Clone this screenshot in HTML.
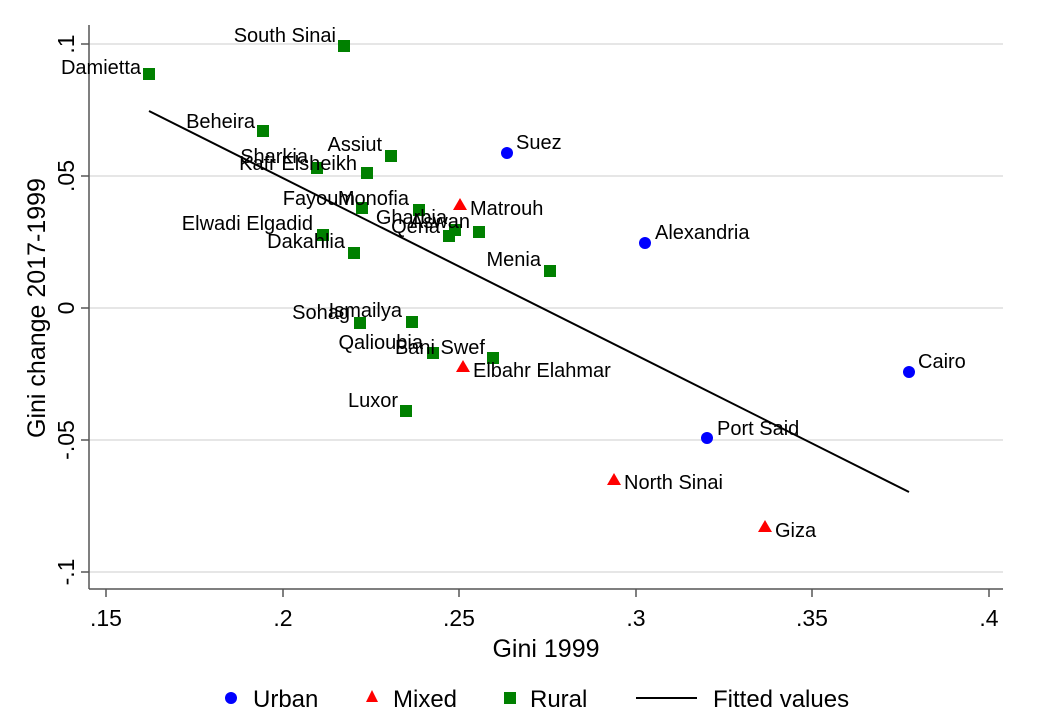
<!DOCTYPE html>
<html><head><meta charset="utf-8"><style>body{margin:0;background:#fff}svg{display:block}text{font-family:"Liberation Sans",sans-serif;fill:#000}</style></head><body>
<svg width="1041" height="721" viewBox="0 0 1041 721">
<rect width="1041" height="721" fill="#fff"/>
<g stroke="#e6e6e6" stroke-width="2">
<line x1="89" y1="44" x2="1003" y2="44"/><line x1="89" y1="176" x2="1003" y2="176"/><line x1="89" y1="308" x2="1003" y2="308"/><line x1="89" y1="440" x2="1003" y2="440"/><line x1="89" y1="572" x2="1003" y2="572"/>
</g>
<g stroke="#555" stroke-width="1.5">
<line x1="89" y1="25" x2="89" y2="589"/><line x1="89" y1="589" x2="1003" y2="589"/>
<line x1="81" y1="44" x2="89" y2="44"/><line x1="81" y1="176" x2="89" y2="176"/><line x1="81" y1="308" x2="89" y2="308"/><line x1="81" y1="440" x2="89" y2="440"/><line x1="81" y1="572" x2="89" y2="572"/>
<line x1="106" y1="589" x2="106" y2="597"/><line x1="283" y1="589" x2="283" y2="597"/><line x1="459" y1="589" x2="459" y2="597"/><line x1="636" y1="589" x2="636" y2="597"/><line x1="812" y1="589" x2="812" y2="597"/><line x1="989" y1="589" x2="989" y2="597"/>
</g>
<g font-size="23" text-anchor="middle">
<text x="106" y="626">.15</text><text x="283" y="626">.2</text><text x="459" y="626">.25</text><text x="636" y="626">.3</text><text x="812" y="626">.35</text><text x="989" y="626">.4</text>
<text transform="translate(74,44) rotate(-90)">.1</text>
<text transform="translate(74,176) rotate(-90)">.05</text>
<text transform="translate(74,308) rotate(-90)">0</text>
<text transform="translate(74,440) rotate(-90)">-.05</text>
<text transform="translate(74,572) rotate(-90)">-.1</text>
</g>
<g font-size="25" text-anchor="middle">
<text x="546" y="657">Gini 1999</text>
<text transform="translate(45,308) rotate(-90)">Gini change 2017-1999</text>
</g>
<line x1="149" y1="111" x2="909" y2="492" stroke="#000" stroke-width="2"/>
<g fill="#008000">
<rect x="143" y="68" width="12" height="12"/><rect x="338" y="40" width="12" height="12"/><rect x="257" y="125" width="12" height="12"/><rect x="385" y="150" width="12" height="12"/><rect x="311" y="162" width="12" height="12"/><rect x="361" y="167" width="12" height="12"/><rect x="356" y="202" width="12" height="12"/><rect x="413" y="204" width="12" height="12"/><rect x="449" y="224" width="12" height="12"/><rect x="443" y="230" width="12" height="12"/><rect x="473" y="226" width="12" height="12"/><rect x="317" y="229" width="12" height="12"/><rect x="348" y="247" width="12" height="12"/><rect x="544" y="265" width="12" height="12"/><rect x="354" y="317" width="12" height="12"/><rect x="406" y="316" width="12" height="12"/><rect x="427" y="347" width="12" height="12"/><rect x="487" y="352" width="12" height="12"/><rect x="400" y="405" width="12" height="12"/>
</g>
<g fill="#0000ff"><circle cx="507" cy="153" r="6"/><circle cx="645" cy="243" r="6"/><circle cx="909" cy="372" r="6"/><circle cx="707" cy="438" r="6"/></g>
<g fill="#ff0000"><polygon points="460,198 467,210 453,210"/><polygon points="463,360 470,372 456,372"/><polygon points="614,473 621,485 607,485"/><polygon points="765,520 772,532 758,532"/></g>
<g font-size="20" text-anchor="end">
<text x="141" y="74">Damietta</text><text x="336" y="42">South Sinai</text><text x="255" y="128">Beheira</text><text x="382" y="151">Assiut</text><text x="308" y="163">Sharkia</text><text x="357" y="170">Kafr Elsheikh</text><text x="355" y="205">Fayoum</text><text x="409" y="205">Monofia</text><text x="447" y="224">Gharbia</text><text x="470" y="228">Aswan</text><text x="440" y="233">Qena</text><text x="313" y="230">Elwadi Elgadid</text><text x="345" y="248">Dakahlia</text><text x="541" y="266">Menia</text><text x="350" y="319">Sohag</text><text x="402" y="317">Ismailya</text><text x="423" y="349">Qalioubia</text><text x="485" y="354">Bani Swef</text><text x="398" y="407">Luxor</text>
</g>
<g font-size="20">
<text x="470" y="215">Matrouh</text><text x="473" y="377">Elbahr Elahmar</text><text x="516" y="149">Suez</text><text x="655" y="239">Alexandria</text><text x="918" y="368">Cairo</text><text x="717" y="435">Port Said</text><text x="624" y="489">North Sinai</text><text x="775" y="537">Giza</text>
</g>
<g font-size="24">
<circle cx="231" cy="698" r="6" fill="#0000ff"/><text x="253" y="707">Urban</text>
<polygon points="372,690 378,702 366,702" fill="#ff0000"/><text x="393" y="707">Mixed</text>
<rect x="504" y="692" width="12" height="12" fill="#008000"/><text x="530" y="707">Rural</text>
<line x1="636" y1="698" x2="697" y2="698" stroke="#000" stroke-width="2"/><text x="713" y="707">Fitted values</text>
</g>
</svg>
</body></html>
